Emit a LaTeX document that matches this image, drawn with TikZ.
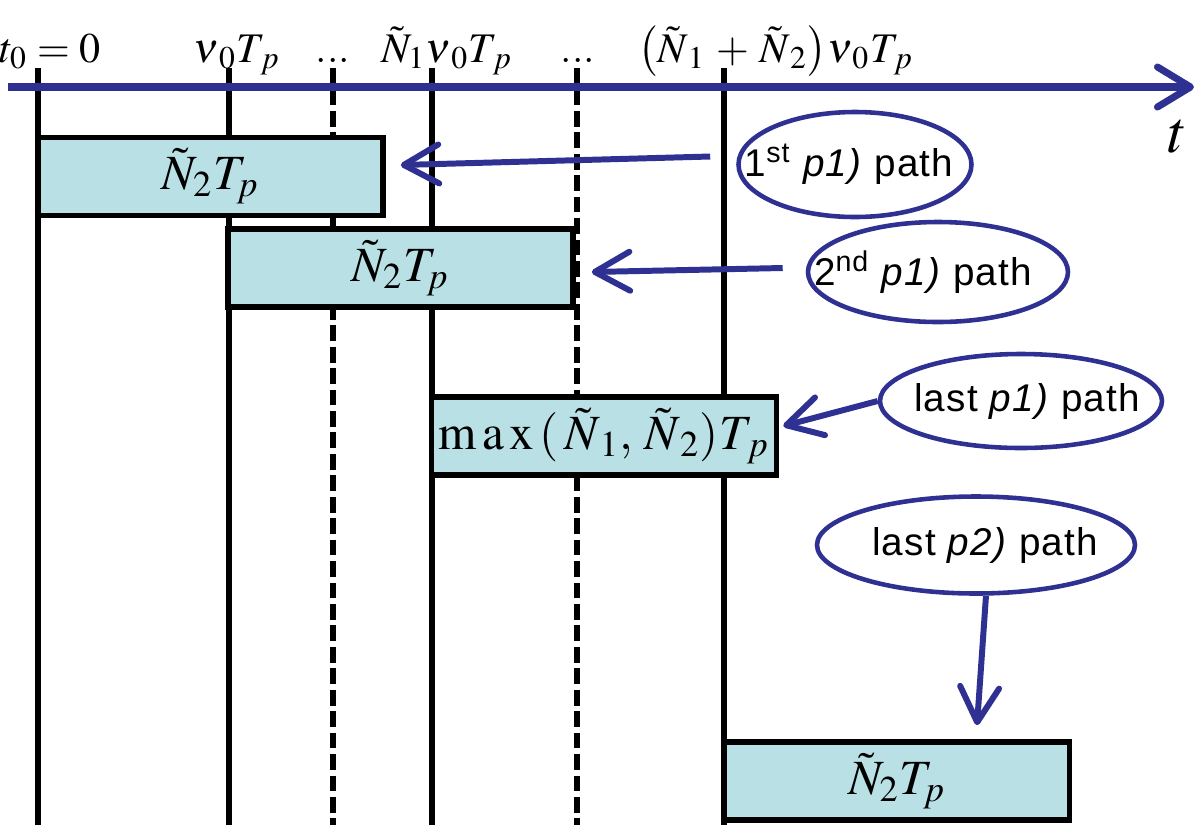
\documentclass[tikz,border=0pt]{standalone}
\usepackage{mathptmx}
\usepackage[no-math]{fontspec}
\newfontfamily\pathfont[LetterSpace=3]{Liberation Sans}
\usetikzlibrary{arrows.meta,shapes.geometric}
\definecolor{axisblue}{RGB}{46,49,146}
\definecolor{boxcyan}{RGB}{185,224,229}
\begin{document}
\begin{tikzpicture}[x=1mm, y=-1mm,
  vline/.style={line width=1.6pt},
  dline/.style={line width=1.6pt, dash pattern=on 4.5pt off 1.6pt},
  axis/.style={draw=axisblue, line width=2pt, -{Straight Barb[length=3.3mm, width=4mm, round]}},
  slot/.style={draw, line width=1.6pt, fill=boxcyan, inner sep=0pt, minimum width=34.5mm, minimum height=7.8mm, font=\fontsize{14}{16}\selectfont},
  bubble/.style={ellipse, draw=axisblue, line width=1.3pt, fill=white, inner sep=0pt},
  bubtext/.style={inner sep=0pt, font=\fontsize{11}{13}\pathfont},
  pointer/.style={draw=axisblue, line width=1.7pt, -{Straight Barb[length=3.5mm, width=3.9mm, round]}},
  tick/.style={font=\fontsize{12}{14}\selectfont, anchor=base, inner sep=0pt}]
\useasboundingbox (0,0) rectangle (120,82.5);
\coordinate (vt0) at (3.8,6.8);
\coordinate (vb0) at (3.8,82.5);
\coordinate (vt1) at (22.9,6.8);
\coordinate (vb1) at (22.9,82.5);
\coordinate (vt2) at (33.3,6.8);
\coordinate (vb2) at (33.3,82.5);
\coordinate (vt3) at (43.2,6.8);
\coordinate (vb3) at (43.2,82.5);
\coordinate (vt4) at (57.7,6.8);
\coordinate (vb4) at (57.7,82.5);
\coordinate (vt5) at (72.4,6.8);
\coordinate (vb5) at (72.4,82.5);
\draw[vline](vt0) -- (vb0);
\draw[vline](vt1) -- (vb1);
\draw[dline](vt2) -- (vb2);
\draw[vline](vt3) -- (vb3);
\draw[dline](vt4) -- (vb4);
\draw[vline](vt5) -- (vb5);
\coordinate (ax0) at (0.8,8.7);
\coordinate (ax1) at (119.4,8.7);
\draw[axis](ax0) -- (ax1);
\node[font=\fontsize{17}{18}\selectfont] (tt) at (117.8,13.7) {$t$};
\node[tick] (lb0) at (5.0,6.2) {$t_0 = 0$};
\node[tick] (lb1) at (23.7,6.2) {$\nu_{\,0}T_{\,p}$};
\node[tick] (lb2) at (33.3,6.2) {...};
\node[tick] (lb3) at (44.7,6.2) {$\tilde N_1\nu_{\,0}T_{\,p}$};
\node[tick] (lb4) at (57.8,6.2) {...};
\node[tick] (lb5) at (77.6,6.2) {$\bigl(\tilde N_{\,1} \,+\, \tilde N_{\,2}\bigr)\nu_{\,0}T_{\,p}$};
\node[slot] (bx0) at (21.05,17.65) {$\tilde N_2T_p$};
\node[slot] (bx1) at (40.05,26.8) {$\tilde N_2T_p$};
\node[slot] (bx2) at (60.4,43.6) {$\mathrm{m\,a\,x}\,(\,\tilde N_{\,1},\, \tilde N_{\,2})T_{\,p}$};
\node[slot] (bx3) at (89.7,78.1) {$\tilde N_2T_p$};
\node[bubble, minimum width=23.3mm, minimum height=10.5mm] (el0) at (85.5,16.45) {};
\node[bubble, minimum width=26mm, minimum height=10mm] (el1) at (93.8,27.2) {};
\node[bubble, minimum width=28.2mm, minimum height=9.4mm] (el2) at (102.1,40.1) {};
\node[bubble, minimum width=31.8mm, minimum height=9.7mm] (el3) at (97.6,54.5) {};
\node[bubtext] (et0) at ([xshift=-0.6mm]el0.center) {1\textsuperscript{st} \textit{p1)} path};
\node[bubtext] (et1) at ([xshift=-1.5mm]el1.center) {2\textsuperscript{nd} \textit{p1)} path};
\node[bubtext] (et2) at ([xshift=0.6mm]el2.center) {last \textit{p1)} path};
\node[bubtext] (et3) at ([xshift=0.9mm]el3.center) {last \textit{p2)} path};
\draw[pointer]([shift={(-2.6,-0.8)}]el0.west) -- ([shift={(1.5,-1.15)}]bx0.east);
\draw[pointer]([shift={(-2.3,-0.4)}]el1.west) -- ([shift={(1.6,0.4)}]bx1.east);
\draw[pointer](el2.west) -- ([shift={(0.4,-1.0)}]bx2.east);
\draw[pointer]([xshift=1mm]el3.south) -- ([shift={(8.0,-1.4)}]bx3.north);
\end{tikzpicture}
\end{document}
